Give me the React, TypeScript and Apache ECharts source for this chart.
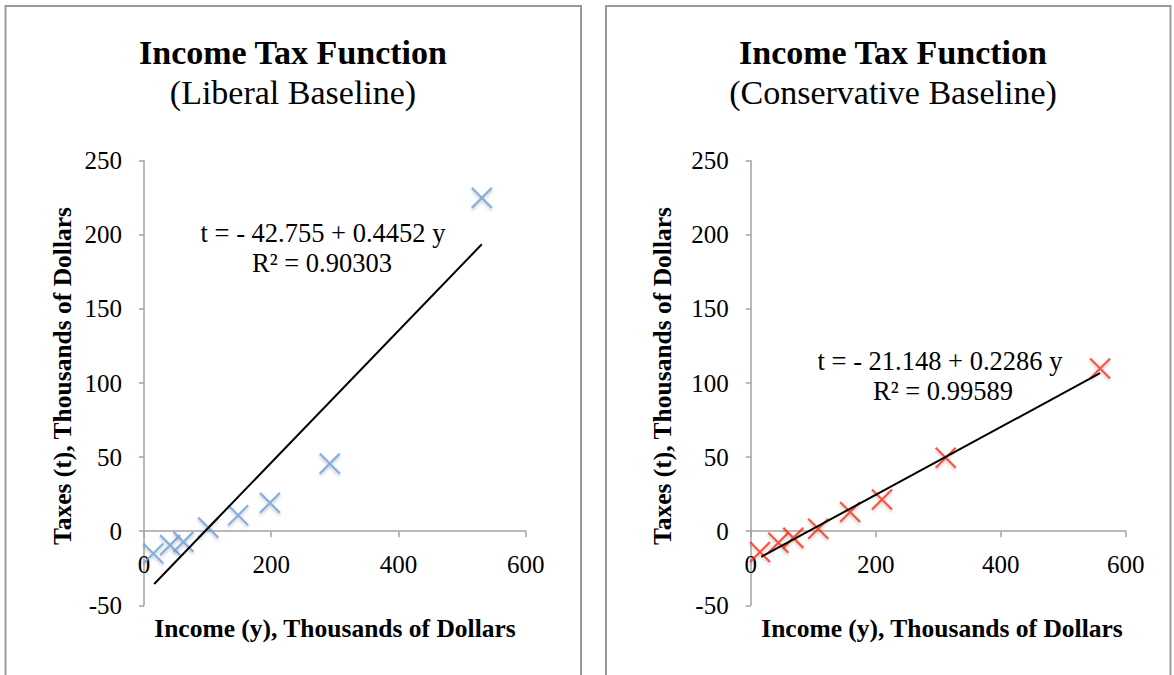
import React, { useEffect, useRef } from "react";
import * as echarts from "echarts";

// Liberal baseline (blue)
const leftIncome = [14.6, 41, 62, 101, 148, 198, 292, 531];
const leftTaxes = [-15.0, -9.4, -7.2, 2.4, 10.8, 19.1, 45.6, 224.9];
const leftTrend = [[16, -35.6], [531, 193.6]];
const leftEquation = "t = - 42.755 + 0.4452 y";
const leftR2 = "R² = 0.90303";

// Conservative baseline (red)
const rightIncome = [14.9, 44.2, 68.2, 108, 159, 210, 312, 559];
const rightTaxes = [-14.0, -7.8, -4.5, 1.6, 12.9, 21.4, 49.6, 109.8];
const rightTrend = [[17, -17.3], [559, 106.6]];
const rightEquation = "t = - 21.148 + 0.2286 y";
const rightR2 = "R² = 0.99589";

const titleMain = "Income Tax Function";
const subtitles = ["(Liberal Baseline)", "(Conservative Baseline)"];
const xName = "Income (y), Thousands of Dollars";
const yName = "Taxes (t), Thousands of Dollars";

const FONT = "'Liberation Serif', 'Times New Roman', serif";
const AXIS_COLOR = "#a3a3a3";

export default function App() {
  const ref = useRef<HTMLDivElement>(null);
  useEffect(() => {
    document.body.style.margin = "0";
    const chart = echarts.init(ref.current!, null, { renderer: "svg" });
    const gridTop = 160.7;
    const gridH = 444.6;
    const grids = [
      { left: 144, top: gridTop, width: 381.7, height: gridH },
      { left: 750.7, top: gridTop, width: 375, height: gridH },
    ];
    // place the x axis on the y = 0 line (offset from grid bottom)
    const zeroOffset = -(gridH * 50) / 300;
    const mkX = (i: number) => ({
      type: "value",
      gridIndex: i,
      min: 0,
      max: 600,
      interval: 200,
      offset: zeroOffset,
      splitLine: { show: false },
      axisLine: { show: true, onZero: false, lineStyle: { color: AXIS_COLOR, width: 1.5 } },
      axisTick: { show: true, length: 6, lineStyle: { color: AXIS_COLOR, width: 1.5 } },
      axisLabel: { color: "#000", fontFamily: FONT, fontSize: 25, margin: 21 },
    });
    const mkY = (i: number) => ({
      type: "value",
      gridIndex: i,
      min: -50,
      max: 250,
      interval: 50,
      splitLine: { show: false },
      axisLine: { show: true, lineStyle: { color: AXIS_COLOR, width: 1.5 } },
      axisTick: { show: true, length: 5, lineStyle: { color: AXIS_COLOR, width: 1.5 } },
      axisLabel: { color: "#000", fontFamily: FONT, fontSize: 25, margin: 22 },
    });
    const cross = "path://M0,0L10,10M10,0L0,10";
    const scatter = (i: number, xs: number[], ys: number[], color: string) => ({
      type: "scatter",
      xAxisIndex: i,
      yAxisIndex: i,
      data: xs.map((x, k) => [x, ys[k]]),
      symbol: cross,
      symbolSize: 20,
      itemStyle: {
        color: "transparent",
        borderColor: color,
        borderWidth: 2.2,
        shadowColor: "rgba(0,0,0,0.25)",
        shadowBlur: 3,
        shadowOffsetY: 2,
      },
      z: 3,
    });
    const trend = (i: number, d: number[][]) => ({
      type: "line",
      xAxisIndex: i,
      yAxisIndex: i,
      data: d,
      symbol: "none",
      lineStyle: { color: "#000", width: 2 },
      z: 4,
    });
    const centers = [293, 893];
    const panelText: any[] = [];
    centers.forEach((cx, i) => {
      panelText.push({
        type: "text",
        x: cx,
        y: 52,
        style: { text: titleMain, font: `bold 34px ${FONT}`, fill: "#000", textAlign: "center", textVerticalAlign: "middle" },
      });
      panelText.push({
        type: "text",
        x: cx,
        y: 92,
        style: { text: subtitles[i], font: `34px ${FONT}`, fill: "#000", textAlign: "center", textVerticalAlign: "middle" },
      });
    });
    const xNameCenters = [335, 942];
    const yNameCenters = [62, 662];
    xNameCenters.forEach((cx) => {
      panelText.push({
        type: "text",
        x: cx,
        y: 628,
        style: { text: xName, font: `bold 25.5px ${FONT}`, fill: "#000", textAlign: "center", textVerticalAlign: "middle" },
      });
    });
    yNameCenters.forEach((cx) => {
      panelText.push({
        type: "text",
        x: cx,
        y: 376,
        rotation: Math.PI / 2,
        style: { text: yName, font: `bold 25.5px ${FONT}`, fill: "#000", textAlign: "center", textVerticalAlign: "middle" },
      });
    });
    const eqs = [
      { x: 323, y: 233, t: leftEquation },
      { x: 322, y: 263, t: leftR2 },
      { x: 940, y: 361, t: rightEquation },
      { x: 943, y: 391, t: rightR2 },
    ];
    eqs.forEach((e) => {
      panelText.push({
        type: "text",
        x: e.x,
        y: e.y,
        style: { text: e.t, font: `26.5px ${FONT}`, fill: "#000", textAlign: "center", textVerticalAlign: "middle" },
      });
    });
    const borders = [
      { type: "rect", shape: { x: 5.5, y: 6, width: 575.5, height: 700 }, style: { fill: "none", stroke: "#999", lineWidth: 2 } },
      { type: "rect", shape: { x: 606, y: 6, width: 564.5, height: 700 }, style: { fill: "none", stroke: "#999", lineWidth: 2 } },
    ];
    chart.setOption({
      animation: false,
      backgroundColor: "#fff",
      grid: grids,
      xAxis: [mkX(0), mkX(1)],
      yAxis: [mkY(0), mkY(1)],
      series: [
        scatter(0, leftIncome, leftTaxes, "#6e9fd8"),
        trend(0, leftTrend),
        scatter(1, rightIncome, rightTaxes, "#ff2d12"),
        trend(1, rightTrend),
      ],
      graphic: [...borders, ...panelText],
    });
    return () => chart.dispose();
  }, []);
  return <div ref={ref} style={{ width: 1174, height: 675 }} />;
}
